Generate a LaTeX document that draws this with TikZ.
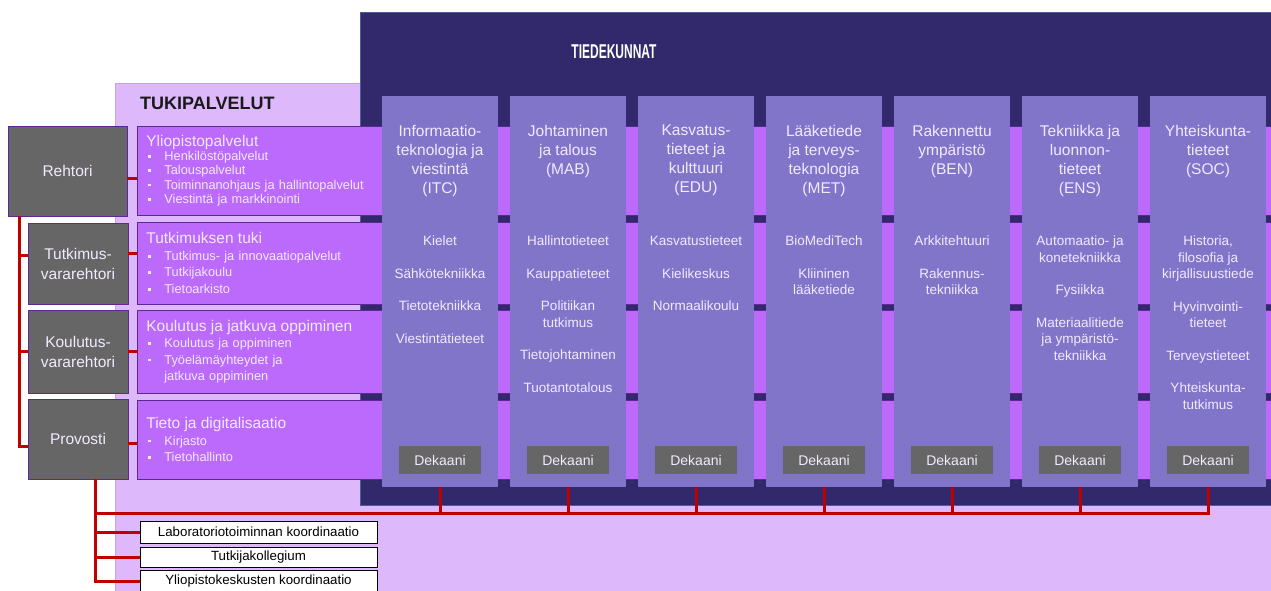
\documentclass[tikz,border=0pt]{standalone}
\usepackage{fontspec}
\setmainfont{Liberation Sans}
\usetikzlibrary{positioning}

\definecolor{lilac}{RGB}{221,185,252}
\definecolor{lilacline}{RGB}{200,160,236}
\definecolor{navy}{RGB}{49,41,107}
\definecolor{navyline}{RGB}{80,92,150}
\definecolor{unitviolet}{RGB}{187,106,251}
\definecolor{unitline}{RGB}{96,40,150}
\definecolor{facviolet}{RGB}{129,117,202}
\definecolor{greybox}{RGB}{102,102,102}
\definecolor{paletext}{RGB}{242,234,255}
\definecolor{linkred}{RGB}{192,0,0}

% small square bullet and indent for the unit lists
\newcommand{\bul}{\hspace*{2pt}\makebox[16pt][l]{\rule[2.8pt]{2.6pt}{2.6pt}}}
\newcommand{\contd}{\hspace*{18pt}}

\begin{document}
\begin{tikzpicture}[x=1pt, y=-1pt, node distance=128pt,
	every node/.style={inner sep=0pt},
	leader/.style={draw=unitline, line width=0.8pt, fill=greybox, text=paletext, align=center, font=\fontsize{15.5}{20}\selectfont},
	unit/.style={draw=unitline, line width=0.8pt, fill=unitviolet, text=paletext, anchor=west, minimum width=1143pt, text width=1125pt, inner xsep=9pt, align=left, font=\fontsize{12.8}{16.5}\selectfont},
	faculty/.style={fill=facviolet, minimum width=116pt, minimum height=391pt},
	facname/.style={text=paletext, align=center, font=\fontsize{15.5}{19}\selectfont},
	subjects/.style={text=paletext, align=center, font=\fontsize{13.5}{16.5}\selectfont},
	dean/.style={fill=greybox, text=paletext, minimum width=82pt, minimum height=28pt, font=\fontsize{14}{16}\selectfont},
	office/.style={draw=black, line width=0.7pt, fill=white, minimum width=237pt, font=\fontsize{13.3}{15}\selectfont},
	link/.style={draw=linkred, line width=3pt}]
	\useasboundingbox (0,0) rectangle (1271,590);
	
	% backgrounds
	\fill[lilac, draw=lilacline] (115,83) rectangle (1280,600);
	\fill[navy, draw=navyline] (360,12) rectangle (1280,505);
	\node[text=white, font=\bfseries\fontsize{20}{24}\selectfont] (fachead) at (614,52) {\scalebox{0.6}[1]{TIEDEKUNNAT}};
	\node[anchor=west, text=black!90, font=\bfseries\fontsize{18}{22}\selectfont] (tukihead) at (140,103) {TUKIPALVELUT};
	
	% support units
	\node[unit, minimum height=89pt, font=\fontsize{12.8}{14.3}\selectfont] (ylp) at (137,170.5) {{\fontsize{15.5}{17}\selectfont Yliopistopalvelut}\\
		\bul Henkilöstöpalvelut\\
		\bul Talouspalvelut\\
		\bul Toiminnanohjaus ja hallintopalvelut\\
		\bul Viestintä ja markkinointi};
	\node[unit, minimum height=82pt] (ttk) at (137,263) {{\fontsize{15.5}{17}\selectfont Tutkimuksen tuki}\\
		\bul Tutkimus- ja innovaatiopalvelut\\
		\bul Tutkijakoulu\\
		\bul Tietoarkisto};
	\node[unit, minimum height=83pt] (kjo) at (137,351.5) {{\fontsize{15.5}{17}\selectfont Koulutus ja jatkuva oppiminen}\\
		\bul Koulutus ja oppiminen\\
		\bul Työelämäyhteydet ja\\
		\contd jatkuva oppiminen};
	\node[unit, minimum height=79pt] (tdi) at (137,439.5) {{\fontsize{15.5}{17}\selectfont Tieto ja digitalisaatio}\\
		\bul Kirjasto\\
		\bul Tietohallinto};
	
	% faculties
	\node[faculty] (itc) at (440,291.5) {};
	\node[faculty, right of=itc] (mab) {};
	\node[faculty, right of=mab] (edu) {};
	\node[faculty, right of=edu] (met) {};
	\node[faculty, right of=met] (ben) {};
	\node[faculty, right of=ben] (ens) {};
	\node[faculty, right of=ens] (soc) {};
	
	\node[facname, below=29pt of itc.north] (itcname) {Informaatio-\\teknologia ja\\viestintä\\(ITC)};
	\node[facname, below=29pt of mab.north] (mabname) {Johtaminen\\ja talous\\(MAB)};
	\node[facname, below=29pt of edu.north] (eduname) {Kasvatus-\\tieteet ja\\kulttuuri\\(EDU)};
	\node[facname, below=29pt of met.north] (metname) {Lääketiede\\ja terveys-\\teknologia\\(MET)};
	\node[facname, below=29pt of ben.north] (benname) {Rakennettu\\ympäristö\\(BEN)};
	\node[facname, below=29pt of ens.north] (ensname) {Tekniikka ja\\luonnon-\\tieteet\\(ENS)};
	\node[facname, below=29pt of soc.north] (socname) {Yhteiskunta-\\tieteet\\(SOC)};
	
	\node[subjects, below=140pt of itc.north] (itclist) {Kielet\\[16pt]Sähkötekniikka\\[16pt]Tietotekniikka\\[16pt]Viestintätieteet};
	\node[subjects, below=140pt of mab.north] (mablist) {Hallintotieteet\\[16pt]Kauppatieteet\\[16pt]Politiikan\\tutkimus\\[16pt]Tietojohtaminen\\[16pt]Tuotantotalous};
	\node[subjects, below=140pt of edu.north] (edulist) {Kasvatustieteet\\[16pt]Kielikeskus\\[16pt]Normaalikoulu};
	\node[subjects, below=140pt of met.north] (metlist) {BioMediTech\\[16pt]Kliininen\\lääketiede};
	\node[subjects, below=140pt of ben.north] (benlist) {Arkkitehtuuri\\[16pt]Rakennus-\\tekniikka};
	\node[subjects, below=140pt of ens.north] (enslist) {Automaatio- ja\\konetekniikka\\[16pt]Fysiikka\\[16pt]Materiaalitiede\\ja ympäristö-\\tekniikka};
	\node[subjects, below=140pt of soc.north] (soclist) {Historia,\\filosofia ja\\kirjallisuustiede\\[16pt]Hyvinvointi-\\tieteet\\[16pt]Terveystieteet\\[16pt]Yhteiskunta-\\tutkimus};
	
	\node[dean, above=13pt of itc.south] (itcdean) {Dekaani};
	\node[dean, above=13pt of mab.south] (mabdean) {Dekaani};
	\node[dean, above=13pt of edu.south] (edudean) {Dekaani};
	\node[dean, above=13pt of met.south] (metdean) {Dekaani};
	\node[dean, above=13pt of ben.south] (bendean) {Dekaani};
	\node[dean, above=13pt of ens.south] (ensdean) {Dekaani};
	\node[dean, above=13pt of soc.south] (socdean) {Dekaani};
	
	% management
	\node[leader, minimum width=119pt, minimum height=90pt] (reh) at (67.5,171) {Rehtori};
	\node[leader, minimum width=100pt, minimum height=81pt] (tvr) at (78,263.5) {Tutkimus-\\vararehtori};
	\node[leader, minimum width=100pt, minimum height=83pt] (kvr) at (78,351.5) {Koulutus-\\vararehtori};
	\node[leader, minimum width=100pt, minimum height=80pt] (pro) at (78,439) {Provosti};
	
	\node[office, minimum height=22pt] (lab) at (258.5,532) {Laboratoriotoiminnan koordinaatio};
	\node[office, minimum height=20pt] (tkk) at (258.5,557) {Tutkijakollegium};
	\node[office, minimum height=22pt] (ylk) at (258.5,581) {Yliopistokeskusten koordinaatio};
	
	% red lines
	\coordinate (trunk) at (19,0);
	\coordinate (spine) at (95,513);
	\draw[link] (trunk |- reh.south) |- ([yshift=-7pt]pro.west);
	\draw[link] ([yshift=8pt]tvr.west -| trunk) -- ([yshift=8pt]tvr.west);
	\draw[link] (kvr.west -| trunk) -- (kvr.west);
	\draw[link] ([yshift=-7pt]reh.east) -- ([yshift=-7pt]reh.east -| ylp.west);
	\draw[link] ([yshift=10pt]tvr.east) -- ([yshift=10pt]tvr.east -| ttk.west);
	\draw[link] (kvr.east) -- (kvr.east -| kjo.west);
	\draw[link] ([yshift=-4pt]pro.east) -- ([yshift=-4pt]pro.east -| tdi.west);
	
	\draw[link] (spine |- pro.south) |- (ylk.west);
	\draw[link] (spine |- lab.west) -- (lab.west);
	\draw[link] (spine |- tkk.west) -- (tkk.west);
	\draw[link] (spine) -| (soc.south);
	\draw[link] (itc.south) -- (itc.south |- spine);
	\draw[link] (mab.south) -- (mab.south |- spine);
	\draw[link] (edu.south) -- (edu.south |- spine);
	\draw[link] (met.south) -- (met.south |- spine);
	\draw[link] (ben.south) -- (ben.south |- spine);
	\draw[link] (ens.south) -- (ens.south |- spine);
\end{tikzpicture}
\end{document}
